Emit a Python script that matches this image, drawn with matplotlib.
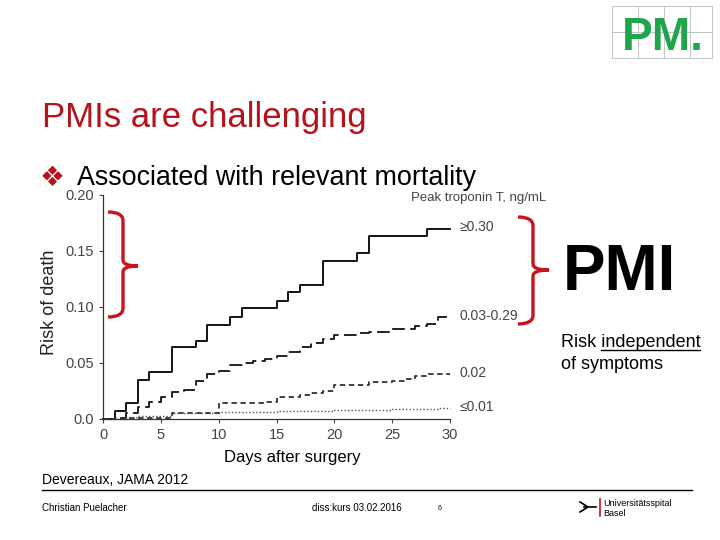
import matplotlib
matplotlib.use("Agg")
import matplotlib.pyplot as plt
import matplotlib.transforms as mtransforms
from matplotlib.path import Path
from matplotlib.patches import PathPatch
from matplotlib.lines import Line2D

plt.rcParams['font.family'] = ['Liberation Sans', 'DejaVu Sans']

# Kaplan-Meier style curves (days after surgery vs risk of death)
days_hi = [0, 1, 2, 3, 4, 6, 8, 9, 11, 12, 15, 16, 17, 19, 22, 23, 28, 30]
risk_hi = [0, 0.007, 0.014, 0.035, 0.042, 0.064, 0.070, 0.084, 0.091, 0.099,
           0.105, 0.113, 0.120, 0.141, 0.148, 0.163, 0.170, 0.170]

days_mid = [0, 1, 2, 3, 4, 5, 6, 7, 8, 9, 10, 11, 12, 13, 14, 15, 16, 17, 18,
            19, 20, 22, 23, 25, 27, 28, 29, 30]
risk_mid = [0, 0.001, 0.005, 0.011, 0.015, 0.020, 0.024, 0.026, 0.034, 0.040,
            0.043, 0.048, 0.050, 0.052, 0.054, 0.056, 0.060, 0.064, 0.068,
            0.071, 0.075, 0.077, 0.078, 0.080, 0.083, 0.085, 0.091, 0.091]

days_low = [0, 1, 2, 6, 10, 14, 15, 17, 18, 19, 20, 23, 25, 26, 27, 28, 30]
risk_low = [0, 0.0005, 0.001, 0.005, 0.014, 0.015, 0.020, 0.021, 0.023, 0.025,
            0.030, 0.033, 0.034, 0.036, 0.038, 0.040, 0.040]

days_min = [0, 2, 3, 6, 10, 15, 20, 25, 29, 30]
risk_min = [0, 0.002, 0.003, 0.005, 0.006, 0.007, 0.008, 0.0085, 0.010, 0.010]

series_labels = ['\u22650.30', '0.03-0.29', '0.02', '\u22640.01']
y_ticks = [0, 0.05, 0.10, 0.15, 0.20]
y_ticklabels = ['0.0', '0.05', '0.10', '0.15', '0.20']
x_ticks = [0, 5, 10, 15, 20, 25, 30]

red = '#B5121B'

fig = plt.figure(figsize=(7.2, 5.4), dpi=100)
# pixel coordinates (from top-left) -> figure
px = mtransforms.Affine2D().scale(1 / 720, -1 / 540).translate(0, 1) + fig.transFigure

ax = fig.add_axes([103 / 720, 1 - 419 / 540, 347 / 720, 224 / 540])
ax.step(days_hi, risk_hi, where='post', color='black', lw=1.3, clip_on=False)
ax.step(days_mid, risk_mid, where='post', color='#111111', lw=1.3,
        dashes=(7, 3), clip_on=False)
ax.step(days_low, risk_low, where='post', color='#333333', lw=1.3,
        dashes=(3, 2), clip_on=False)
ax.step(days_min, risk_min, where='post', color='#555555', lw=1.0,
        dashes=(1, 1.5), clip_on=False)

ax.set_xlim(0, 30)
ax.set_ylim(0, 0.2)
ax.set_xticks(x_ticks)
ax.set_yticks(y_ticks)
ax.set_yticklabels(y_ticklabels)
ax.tick_params(labelsize=10.5, labelcolor='#444444', length=3, width=0.8,
               color='#444444')
for s in ['top', 'right']:
    ax.spines[s].set_visible(False)
for s in ['left', 'bottom']:
    ax.spines[s].set_color('#333333')
    ax.spines[s].set_linewidth(0.9)

ax.set_ylabel('Risk of death', fontsize=13, color='#222222')
ax.yaxis.set_label_coords(-0.13, 0.522)
ax.set_xlabel('Days after surgery', fontsize=12, color='black')
ax.xaxis.set_label_coords(0.545, -0.14)

ends = [risk_hi[-1], risk_mid[-1], risk_low[-1], risk_min[-1]]
for lab, yv in zip(series_labels, ends):
    ax.text(30.8, yv + 0.001, lab, fontsize=10, color='#444444', va='center',
            clip_on=False)
ax.text(26.6, 0.197, 'Peak troponin T, ng/mL', fontsize=9.5, color='#444444',
        va='center', clip_on=False)

# red braces
def brace(x0, xv, xt, ytop, ymid, ybot):
    verts = [(x0, ytop), (xv, ytop), (xv, ytop + 9),
             (xv, ymid - 6), (xv, ymid), (xt, ymid),
             (xv, ymid), (xv, ymid + 6),
             (xv, ybot - 9), (xv, ybot), (x0, ybot)]
    codes = [Path.MOVETO, Path.CURVE3, Path.CURVE3,
             Path.LINETO, Path.CURVE3, Path.CURVE3,
             Path.CURVE3, Path.CURVE3,
             Path.LINETO, Path.CURVE3, Path.CURVE3]
    fig.add_artist(PathPatch(Path(verts, codes), fc='none', ec='#C8141E',
                             lw=2.4, transform=px))

brace(108, 123, 138, 212, 266, 317)
brace(518, 533, 549, 217, 270, 324)

# slide texts
fig.text(42 / 720, 1 - 127 / 540, 'PMIs are challenging', fontsize=25,
         color=red, va='baseline')
fig.text(40 / 720, 1 - 186 / 540, '\u2756', fontsize=20, color=red,
         va='baseline', family=['DejaVu Sans'])
fig.text(77 / 720, 1 - 185 / 540, 'Associated with relevant mortality',
         fontsize=19.4, color='black', va='baseline')
fig.text(563 / 720, 1 - 290 / 540, 'PMI', fontsize=46, fontweight='bold',
         color='black', va='baseline')
fig.text(561 / 720, 1 - 347 / 540, 'Risk independent', fontsize=13,
         color='black', va='baseline')
fig.add_artist(Line2D([601, 700], [350, 350], color='black', lw=1.0,
                      transform=px))
fig.text(561 / 720, 1 - 369 / 540, 'of symptoms', fontsize=13,
         color='black', va='baseline')

fig.text(42 / 720, 1 - 484 / 540, 'Devereaux, JAMA 2012', fontsize=10,
         color='black', va='baseline')
fig.add_artist(Line2D([42, 692], [490, 490], color='black', lw=1.0,
                      transform=px))
fig.text(42 / 720, 1 - 508 / 540, 'Christian Puelacher', fontsize=7,
         va='center')
fig.text(312 / 720, 1 - 508 / 540, 'diss:kurs 03.02.2016', fontsize=7,
         va='center')
fig.text(438 / 720, 1 - 508 / 540, '6', fontsize=5, va='center')

# hospital logo
fig.add_artist(Line2D([580, 588, 580], [502, 507, 512], color='black', lw=1.2,
                      transform=px))
fig.add_artist(Line2D([584, 596], [507, 507], color='black', lw=1.2,
                      transform=px))
fig.add_artist(Line2D([600, 600], [499, 516], color='#C8141E', lw=1.2,
                      transform=px))
fig.text(603 / 720, 1 - 503 / 540, 'Universit\u00e4tsspital', fontsize=6.5,
         va='center')
fig.text(603 / 720, 1 - 513 / 540, 'Basel', fontsize=6.5, va='center')

# top-right puzzle logo
for xx in [612, 638, 664, 690, 712]:
    fig.add_artist(Line2D([xx, xx], [6, 58], color='#C4C4C4', lw=0.7,
                          transform=px))
for yy in [6, 32, 58]:
    fig.add_artist(Line2D([612, 712], [yy, yy], color='#C4C4C4', lw=0.7,
                          transform=px))
fig.text(622 / 720, 1 - 50 / 540, 'PM.', fontsize=33, fontweight='bold',
         color='#1FA54A', va='baseline')

fig.savefig('out.png', dpi=100)
